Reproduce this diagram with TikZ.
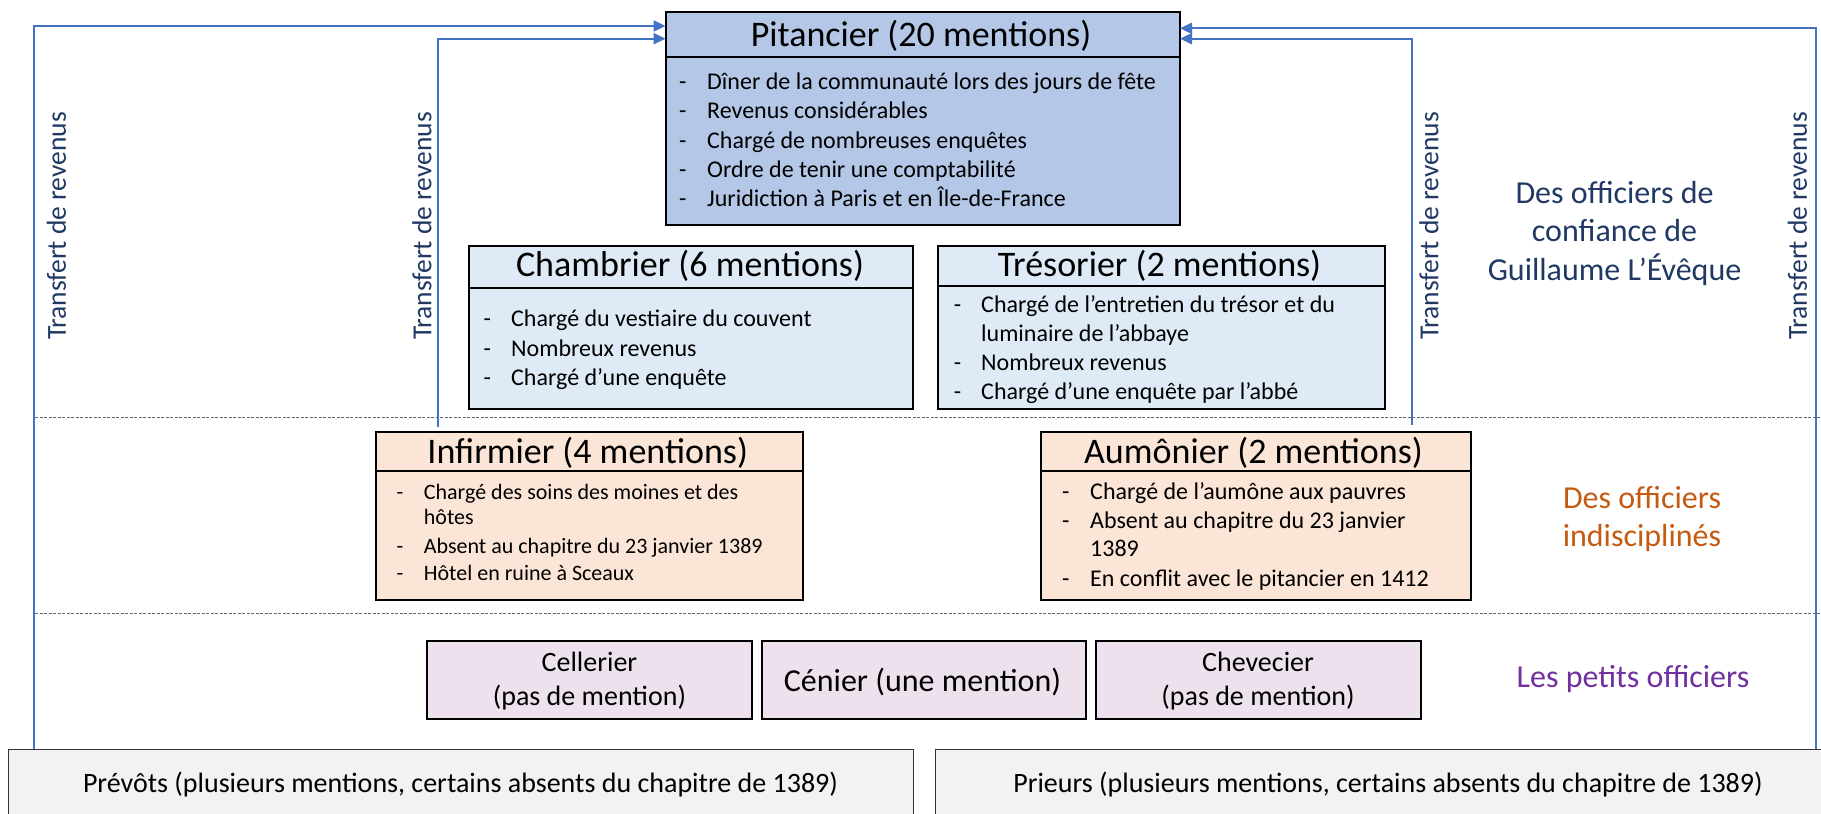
\documentclass[tikz,border=0pt]{standalone}
\usepackage{fontspec}
\setmainfont{Carlito}
\usetikzlibrary{arrows.meta}
\definecolor{pitfill}{HTML}{B4C7E7}
\definecolor{bluefill}{HTML}{DEEBF7}
\definecolor{orangefill}{HTML}{FBE5D6}
\definecolor{purplefill}{HTML}{EDE1EE}
\definecolor{grayfill}{HTML}{F2F2F2}
\definecolor{arrowblue}{HTML}{4472C4}
\definecolor{navytxt}{HTML}{203864}
\definecolor{orangetxt}{HTML}{C55A11}
\definecolor{purpletxt}{HTML}{7030A0}
\begin{document}
\begin{tikzpicture}[x=1pt,y=-1pt,
  box/.style={draw=black,line width=2pt,inner sep=0pt,outer sep=0pt},
  basebox/.style={draw=black!80,line width=1.5pt,inner sep=0pt,outer sep=0pt,fill=grayfill},
  hdr/.style={line width=2pt},
  ttl/.style={anchor=base,inner sep=0pt,font=\fontsize{36}{43}\selectfont},
  bl/.style={anchor=base west,inner sep=0pt,font=\fontsize{24}{29}\selectfont},
  sbl/.style={anchor=base west,inner sep=0pt,font=\fontsize{22}{26}\selectfont},
  small/.style={anchor=base,inner sep=0pt,font=\fontsize{28}{34}\selectfont},
  conn/.style={draw=arrowblue,line width=2pt,-{Triangle[length=12pt,width=11pt]}},
  vlbl/.style={rotate=90,inner sep=0pt,text=navytxt,font=\fontsize{27.5}{33}\selectfont},
  grp/.style={anchor=base,inner sep=0pt,font=\fontsize{32}{38}\selectfont},
  sep/.style={draw=black!60,line width=1pt,dash pattern=on 3pt off 1.5pt}
]
\useasboundingbox (0,0) rectangle (1821,814);
\clip (0,0) rectangle (1821,814);

% separators
\draw[sep] (35,417.5) -- (1821,417.5);
\draw[sep] (35,613.3) -- (1821,613.3);

% Pitancier
\node[box,fill=pitfill,minimum width=514.4pt,minimum height=213.3pt] (pit) at (922.8,118.35) {};
\draw[hdr] (665.6,56.7) -- (1180,56.7);
\node[ttl] (pitt) at (921,46.7) {Pitancier (20 mentions)};
\foreach \y/\t [count=\i] in {89.3/{Dîner de la communauté lors des jours de fête},
  118.7/{Revenus considérables},
  148.0/{Chargé de nombreuses enquêtes},
  177.4/{Ordre de tenir une comptabilité},
  206.7/{Juridiction à Paris et en Île-de-France}}{
  \node[bl] (pitd\i) at (679,\y) {-};
  \node[bl] (pitb\i) at (707,\y) {\t};
}

% Chambrier
\node[box,fill=bluefill,minimum width=444pt,minimum height=163.3pt] (cham) at (691,327.35) {};
\draw[hdr] (469,287.7) -- (913,287.7);
\node[ttl] (chamt) at (690,276.7) {Chambrier (6 mentions)};
\foreach \y/\t [count=\i] in {326.7/{Chargé du vestiaire du couvent},
  356.0/{Nombreux revenus},
  385.0/{Chargé d’une enquête}}{
  \node[bl] (chamd\i) at (483.5,\y) {-};
  \node[bl] (chamb\i) at (511,\y) {\t};
}

% Tresorier
\node[box,fill=bluefill,minimum width=446.7pt,minimum height=163.3pt] (tres) at (1161.35,327.35) {};
\draw[hdr] (938,286) -- (1384.7,286);
\node[ttl] (trest) at (1159.5,276.7) {Trésorier (2 mentions)};
\node[bl] (tresd1) at (953.6,312) {-};
\node[bl] (tresb1) at (981,312) {Chargé de l’entretien du trésor et du};
\node[bl] (tresb1b) at (981,341.5) {luminaire de l’abbaye};
\node[bl] (tresd2) at (953.6,370.5) {-};
\node[bl] (tresb2) at (981,370.5) {Nombreux revenus};
\node[bl] (tresd3) at (953.6,399) {-};
\node[bl] (tresb3) at (981,399) {Chargé d’une enquête par l’abbé};

% Infirmier
\node[box,fill=orangefill,minimum width=427.5pt,minimum height=168.3pt] (inf) at (589.25,515.85) {};
\draw[hdr] (375.5,470.7) -- (803,470.7);
\node[ttl] (inft) at (587.7,463.3) {Infirmier (4 mentions)};
\node[sbl] (infd1) at (396.4,499.3) {-};
\node[sbl] (infb1) at (423.7,499.3) {Chargé des soins des moines et des};
\node[sbl] (infb1b) at (423.7,524.3) {hôtes};
\node[sbl] (infd2) at (396.4,553.3) {-};
\node[sbl] (infb2) at (423.7,553.3) {Absent au chapitre du 23 janvier 1389};
\node[sbl] (infd3) at (396.4,580) {-};
\node[sbl] (infb3) at (423.7,580) {Hôtel en ruine à Sceaux};

% Aumonier
\node[box,fill=orangefill,minimum width=430pt,minimum height=168.3pt] (aum) at (1255.7,515.85) {};
\draw[hdr] (1040.7,470.7) -- (1470.7,470.7);
\node[ttl] (aumt) at (1253.5,463.3) {Aumônier (2 mentions)};
\node[bl] (aumd1) at (1062,499.3) {-};
\node[bl] (aumb1) at (1090,499.3) {Chargé de l’aumône aux pauvres};
\node[bl] (aumd2) at (1062,528.3) {-};
\node[bl] (aumb2) at (1090,528.3) {Absent au chapitre du 23 janvier};
\node[bl] (aumb2b) at (1090,556.7) {1389};
\node[bl] (aumd3) at (1062,586.7) {-};
\node[bl] (aumb3) at (1090,586.7) {En conflit avec le pitancier en 1412};

% petits officiers
\node[box,fill=purplefill,minimum width=325.7pt,minimum height=78.3pt] (cel) at (589.45,679.85) {};
\node[small] (celt1) at (589.45,671.7) {Cellerier};
\node[small] (celt2) at (589.45,705) {(pas de mention)};
\node[box,fill=purplefill,minimum width=324pt,minimum height=78.3pt] (cen) at (924,679.85) {};
\node[anchor=base,inner sep=0pt,font=\fontsize{32}{38}\selectfont] (cent) at (922.5,691) {Cénier (une mention)};
\node[box,fill=purplefill,minimum width=325.3pt,minimum height=78.3pt] (chev) at (1258.35,679.85) {};
\node[small] (chevt1) at (1258,671.7) {Chevecier};
\node[small] (chevt2) at (1258,705) {(pas de mention)};

% base boxes
\node[basebox,minimum width=904.6pt,minimum height=90.7pt] (prev) at (461,794.65) {};
\node[small] (prevt) at (460.5,792.7) {Prévôts (plusieurs mentions, certains absents du chapitre de 1389)};
\node[basebox,minimum width=914.3pt,minimum height=90.7pt] (prie) at (1392.85,794.65) {};
\node[small] (priet) at (1388,792.7) {Prieurs (plusieurs mentions, certains absents du chapitre de 1389)};

% group labels
\node[grp,text=navytxt] (g1a) at (1614.5,203.3) {Des officiers de};
\node[grp,text=navytxt] (g1b) at (1614.5,241.7) {confiance de};
\node[grp,text=navytxt] (g1c) at (1614.5,280) {Guillaume L’Évêque};
\node[grp,text=orangetxt] (g2a) at (1642,508.3) {Des officiers};
\node[grp,text=orangetxt] (g2b) at (1642,546.7) {indisciplinés};
\node[grp,text=purpletxt] (g3) at (1633,687.3) {Les petits officiers};

% connectors
\coordinate (lo) at (33.5,26);
\coordinate (li) at (438,38.7);
\coordinate (ri) at (1411.5,38.7);
\coordinate (ro) at (1816,28.3);
\draw[conn] (prev.north -| lo) |- (pit.west |- lo);
\draw[conn] ([yshift=5pt]inf.north -| li) |- (pit.west |- li);
\draw[conn] ([yshift=6.5pt]aum.north -| ri) |- (pit.east |- ri);
\draw[conn] (prie.north -| ro) |- (pit.east |- ro);

\node[vlbl] (v1) at (56.5,226) {Transfert de revenus};
\node[vlbl] (v2) at (422,226) {Transfert de revenus};
\node[vlbl] (v3) at (1429,226) {Transfert de revenus};
\node[vlbl] (v4) at (1797.5,226) {Transfert de revenus};
\end{tikzpicture}
\end{document}
